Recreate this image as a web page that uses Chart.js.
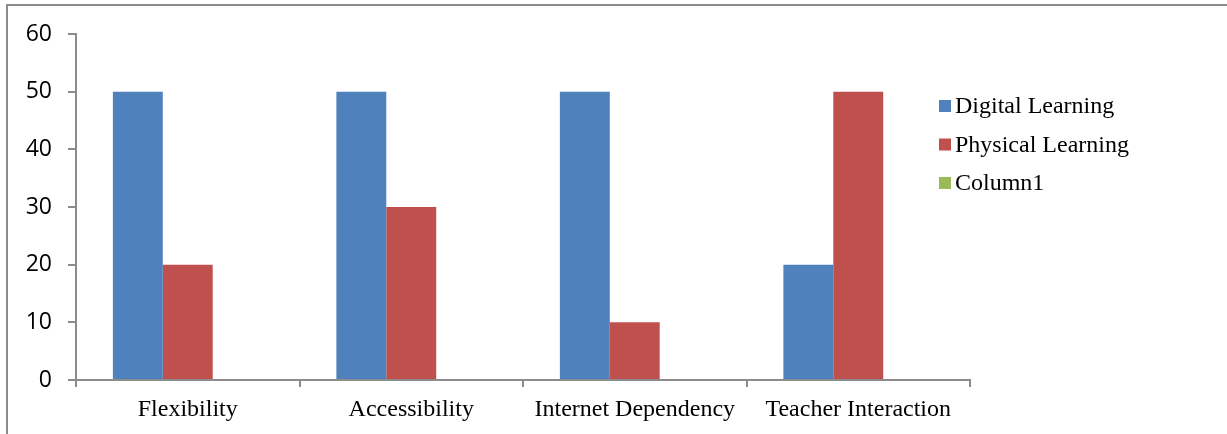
<!DOCTYPE html>
<html>
<head>
<meta charset="utf-8">
<script src="https://cdn.jsdelivr.net/npm/chart.js@4.4.1/dist/chart.umd.min.js"></script>
<style>
  html, body { margin: 0; padding: 0; background: #fff; }
  #wrap { position: relative; width: 1227px; height: 434px; overflow: hidden; }
  #frame { position: absolute; left: 6px; top: 4px; width: 1300px; height: 500px;
           border-top: 2px solid #8c8c8c; border-left: 2px solid #8c8c8c; box-sizing: border-box; }
  canvas { position: absolute; left: 0; top: 0; }
</style>
</head>
<body>
<div id="wrap">
  <div id="frame"></div>
  <canvas id="c" width="1227" height="434"></canvas>
</div>
<script>
const categories = ['Flexibility', 'Accessibility', 'Internet Dependency', 'Teacher Interaction'];
const digitalLearning = [50, 50, 50, 20];
const physicalLearning = [20, 30, 10, 50];
const column1 = [null, null, null, null];
const yTicks = [0, 10, 20, 30, 40, 50, 60];

const AXIS = '#8c8c8c';
const SERIF = '"Liberation Serif", "Times New Roman", serif';

// Legend drawn as a vertical list of colour squares beside the plot
const sideLegend = {
  id: 'sideLegend',
  afterDraw(chart, args, opts) {
    const ctx = chart.ctx;
    ctx.save();
    ctx.font = '24px ' + SERIF;
    ctx.textBaseline = 'middle';
    ctx.textAlign = 'left';
    chart.data.datasets.forEach((ds, i) => {
      const y = opts.y + i * opts.step;
      ctx.fillStyle = ds.backgroundColor;
      ctx.fillRect(opts.x, y - 6, 12, 12);
      ctx.fillStyle = '#000';
      ctx.fillText(ds.label, opts.x + 16, y + 1);
    });
    ctx.restore();
  }
};

new Chart(document.getElementById('c'), {
  type: 'bar',
  data: {
    labels: categories,
    datasets: [
      { label: 'Digital Learning', data: digitalLearning, backgroundColor: '#4F81BD' },
      { label: 'Physical Learning', data: physicalLearning, backgroundColor: '#C0504D' },
      { label: 'Column1', data: column1, backgroundColor: '#9BBB59' }
    ]
  },
  options: {
    responsive: false,
    animation: false,
    events: [],
    layout: { padding: { left: 0, right: 257, top: 34, bottom: 0 } },
    datasets: { bar: { categoryPercentage: 0.67, barPercentage: 1.0, borderWidth: 0 } },
    plugins: {
      legend: { display: false },
      tooltip: { enabled: false },
      sideLegend: { x: 939, y: 106, step: 38.5 }
    },
    scales: {
      x: {
        afterFit(s) { s.height = 54; },
        grid: { offset: true, drawOnChartArea: false, drawTicks: true, tickLength: 7, color: AXIS, lineWidth: 2 },
        border: { display: true, color: AXIS, width: 2 },
        ticks: { color: '#000', padding: 8, font: { family: SERIF, size: 24 }, maxRotation: 0, autoSkip: false }
      },
      y: {
        min: 0, max: 60,
        afterFit(s) { s.width = 76; },
        afterBuildTicks(s) { s.ticks = yTicks.map(v => ({ value: v })); },
        grid: { drawOnChartArea: false, drawTicks: true, tickLength: 8, color: AXIS, lineWidth: 2 },
        border: { display: true, color: AXIS, width: 2 },
        ticks: { color: '#000', padding: 16, font: { family: '"Open Sans", sans-serif', size: 23 } }
      }
    }
  },
  plugins: [sideLegend]
});
</script>
</body>
</html>
